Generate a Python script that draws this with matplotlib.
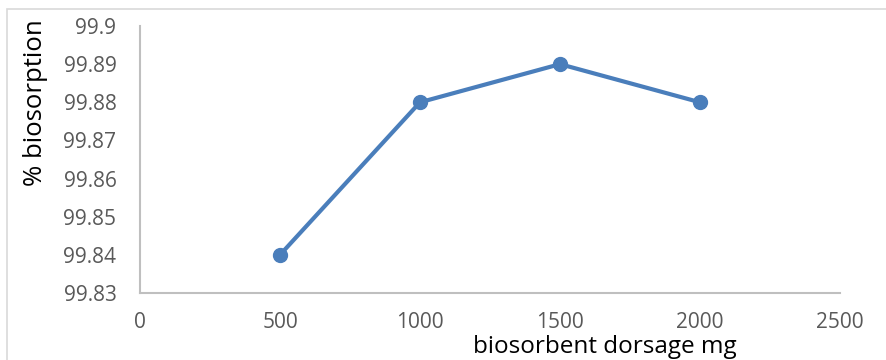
import matplotlib
matplotlib.use("Agg")
import matplotlib.pyplot as plt
from matplotlib.patches import Rectangle

# Biosorption efficiency versus biosorbent dosage
dosage_mg = [500, 1000, 1500, 2000]
biosorption_pct = [99.84, 99.88, 99.89, 99.88]
x_ticks = [0, 500, 1000, 1500, 2000, 2500]
y_ticks = [99.83, 99.84, 99.85, 99.86, 99.87, 99.88, 99.89, 99.9]
y_tick_labels = ["99.83", "99.84", "99.85", "99.86", "99.87", "99.88", "99.89", "99.9"]

W, H = 886, 360
fig = plt.figure(figsize=(W / 100, H / 100), dpi=100)
plt.rcParams['font.family'] = ['Open Sans', 'DejaVu Sans']

# outer chart frame
fig.patches.append(Rectangle((7 / W, -0.1), 1.1, (H - 9) / H + 0.1, transform=fig.transFigure,
                             fill=False, edgecolor="#d9d9d9", linewidth=1.2))

left, right, top, bottom = 140, 840, 26, 293
ax = fig.add_axes([left / W, 1 - bottom / H, (right - left) / W, (bottom - top) / H])

ax.plot(dosage_mg, biosorption_pct, color="#4a7ebb", linewidth=3,
        marker="o", markersize=10, markerfacecolor="#4a7ebb", markeredgecolor="#4a7ebb",
        clip_on=False, zorder=3)

ax.set_xlim(0, 2500)
ax.set_ylim(99.83, 99.9)
ax.set_xticks(x_ticks)
ax.set_yticks(y_ticks)
ax.set_yticklabels(y_tick_labels)

for side in ("top", "right"):
    ax.spines[side].set_visible(False)
for side in ("left", "bottom"):
    ax.spines[side].set_color("#bfbfbf")
    ax.spines[side].set_linewidth(1.5)

ax.tick_params(axis="both", length=0, labelsize=15, labelcolor="#595959")
ax.tick_params(axis="y", pad=17)
ax.tick_params(axis="x", pad=14)

fig.text(36 / W, 1 - 103 / H, "% biosorption", rotation=90, ha="center", va="center",
         fontsize=18.5, color="black")
fig.text(605 / W, 1 - 347 / H, "biosorbent dorsage mg", ha="center", va="center",
         fontsize=17.5, color="black")

fig.savefig("out.png", dpi=100)
